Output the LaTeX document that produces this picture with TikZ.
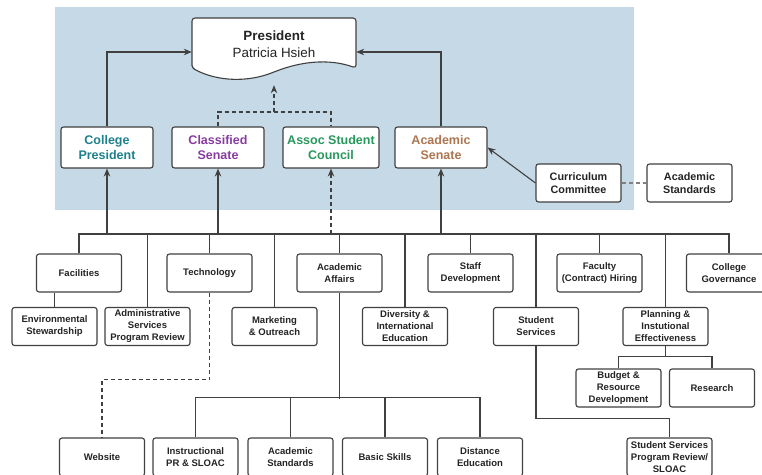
\documentclass[tikz,border=0pt]{standalone}
\usepackage{fontspec}
\setmainfont{Liberation Sans}
\usetikzlibrary{arrows.meta}
\definecolor{BG}{RGB}{198,217,230}
\definecolor{LN}{RGB}{64,64,64}
\definecolor{TX}{RGB}{36,36,36}
\definecolor{T1}{RGB}{30,128,140}
\definecolor{P1}{RGB}{136,60,160}
\definecolor{G1}{RGB}{40,152,92}
\definecolor{B1}{RGB}{172,118,80}
\tikzset{
  unit/.style={draw=LN, fill=white, text=TX, rounded corners=2.5pt, line width=1.1pt,
    minimum width=85pt, minimum height=38pt, inner sep=1pt, align=center,
    font=\fontsize{9.5}{12}\selectfont\bfseries},
  body/.style={unit, minimum width=92pt, minimum height=41pt,
    font=\fontsize{12.5}{15.5}\selectfont\bfseries},
  link/.style={LN, line width=1.1pt},
  tip/.style={-{Stealth[length=8pt,width=6.5pt]}},
  up/.style={link, tip},
  loose/.style={link, dash pattern=on 4pt off 3pt},
}

\begin{document}
\begin{tikzpicture}[x=1pt,y=-1pt]
\path[use as bounding box, clip] (0,0) rectangle (762,474);
\fill[BG] (55,7) rectangle (634,210);
\draw[link, fill=white, rounded corners=3pt] (192,68) -- (192,18) -- (356,18) -- (356,68)
  .. controls (328,58) and (300,62) .. (274,72) .. controls (248,82) and (218,82) .. (192,68) -- cycle;
\node[text=TX, font=\fontsize{13.4}{16.5}\selectfont, align=center, minimum width=164pt,
  minimum height=52pt, inner sep=0pt] (pres) at (274,44) {\textbf{President}\\Patricia Hsieh};
\node[body, text=T1] (cp) at (107,147.5) {College\\President};
\node[body, text=P1] (cs) at (218,147.5) {Classified\\Senate};
\node[body, text=G1, minimum width=96pt] (asc) at (331,147.5) {Assoc Student\\Council};
\node[body, text=B1] (as) at (441,147.5) {Academic\\Senate};
\node[unit, font=\fontsize{10.8}{13}\selectfont\bfseries] (cc) at (578.5,183) {Curriculum\\Committee};
\node[unit, font=\fontsize{10.8}{13}\selectfont\bfseries] (std) at (689.5,183) {Academic\\Standards};
\draw[up] (cp.north) |- ([yshift=-8pt]pres.west);
\draw[up] (as.north) |- ([yshift=-8pt]pres.east);
\coordinate (mid) at (274,112);
\draw[loose] (cs.north) |- (mid) -| (asc.north);
\draw[loose, tip] (mid) -- ([yshift=-15pt]pres.south);
\draw[up] (cc.west) -- (as.east);
\draw[loose, gray] (cc.east) -- (std.west);
\node[unit] (fac) at (79,273) {Facilities};
\node[unit] (tech) at (209.5,273) {Technology};
\node[unit] (aa) at (339.5,273) {Academic\\Affairs};
\node[unit] (sd) at (470.5,273) {Staff\\Development};
\node[unit] (fh) at (599.5,273) {Faculty\\(Contract) Hiring};
\node[unit] (gov) at (729,273) {College\\Governance};
\node[unit] (env) at (54.5,326.5) {Environmental\\Stewardship};
\node[unit] (adm) at (147.5,326.5) {Administrative\\Services\\Program Review};
\node[unit] (mkt) at (274.5,326.5) {Marketing\\\& Outreach};
\node[unit] (div) at (405,326.5) {Diversity \&\\International\\Education};
\node[unit] (ss) at (536,326.5) {Student\\Services};
\node[unit] (plan) at (665.5,326.5) {Planning \&\\Instutional\\Effectiveness};
\node[unit] (bud) at (618.5,388) {Budget \&\\Resource\\Development};
\node[unit] (res) at (712,388) {Research};
\node[unit] (web) at (102,457) {Website};
\node[unit] (ipr) at (195.5,457) {Instructional\\PR \& SLOAC};
\node[unit] (ast) at (290.5,457) {Academic\\Standards};
\node[unit] (bs) at (385,457) {Basic Skills};
\node[unit] (de) at (480,457) {Distance\\Education};
\node[unit] (sspr) at (669.5,457) {Student Services\\Program Review/\\SLOAC};
\coordinate (bus) at (0,234);
\draw[link] (fac.north) -- (fac.north |- bus) -| (gov.north);
\foreach \n in {adm,tech,mkt,aa,div,sd,ss,fh,plan} \draw[link] (\n.north) -- (\n.north |- bus);
\foreach \n in {cp,cs,as} \draw[up] (\n.south |- bus) -- (\n.south);
\draw[loose, tip] (asc.south |- bus) -- (asc.south);
\draw[link] (fac.south -| env.north) -- (env.north);
\draw[loose] (tech.south) -- ++(0,87) -| (web.north);
\draw[link] (aa.south) -- ++(0,106);
\draw[link] (ipr.north) -- ++(0,-40) -| (de.north);
\foreach \n in {ast,bs} \draw[link] (\n.north) -- ++(0,-40);
\draw[link] (ss.south) -- ++(0,72) -| (sspr.north);
\draw[link] (plan.south) -- ++(0,11);
\draw[link] (bud.north) -- ++(0,-12) -| (res.north);
\end{tikzpicture}
\end{document}
